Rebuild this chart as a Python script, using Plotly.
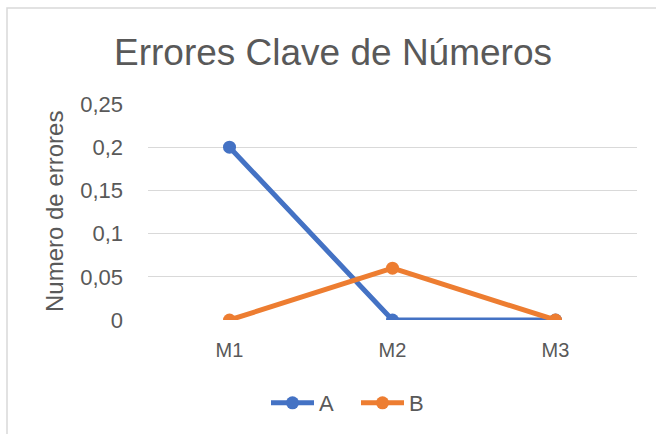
import plotly.graph_objects as go

categories = ["M1", "M2", "M3"]
series_a = [0.2, 0, 0]
series_b = [0, 0.06, 0]
tick_vals = [0, 0.05, 0.1, 0.15, 0.2, 0.25]

W, H = 656, 434
L, R, T, B = 148, 19, 104, 114
pw, ph = W - L - R, H - T - B

fig = go.Figure()
fig.add_trace(go.Scatter(x=categories, y=series_a, name="A", mode="lines+markers",
                         line=dict(color="#4472C4", width=5),
                         marker=dict(size=13, color="#4472C4")))
fig.add_trace(go.Scatter(x=categories, y=series_b, name="B", mode="lines+markers",
                         line=dict(color="#ED7D31", width=5),
                         marker=dict(size=13, color="#ED7D31")))

grey = "#595959"
fig.update_layout(
    width=W, height=H,
    margin=dict(l=L, r=R, t=T, b=B, autoexpand=False),
    paper_bgcolor="white", plot_bgcolor="white",
    separators=",.",
    font=dict(family="Liberation Sans, Arial", color=grey),
    title=dict(text="Errores Clave de Números", x=333 / W, xanchor="center",
               y=1 - 52 / H, yanchor="middle",
               font=dict(size=37, color=grey)),
    xaxis=dict(type="category", range=[-0.5, 2.5], showgrid=False, showline=False,
               zeroline=False, ticks="", tickfont=dict(size=20, color=grey),
               ticklabelstandoff=16, automargin=False),
    yaxis=dict(range=[0, 0.25], tickvals=tick_vals, showgrid=True, gridcolor="#d9d9d9",
               gridwidth=1, zeroline=False, showline=False, ticks="",
               tickfont=dict(size=22, color=grey), ticklabelstandoff=24,
               automargin=False),
    showlegend=True,
    legend=dict(orientation="h", x=(266 - L) / pw, xanchor="left",
                y=(T + ph - 403) / ph, yanchor="middle",
                font=dict(size=22, color=grey), itemwidth=43, entrywidth=32,
                bgcolor="rgba(0,0,0,0)"),
    shapes=[dict(type="rect", xref="paper", yref="paper",
                 x0=(7 - L) / pw, x1=1.2, y0=-1.0, y1=(T + ph - 8) / ph,
                 line=dict(color="#d9d9d9", width=1.5), layer="below")],
    annotations=[dict(text="Numero de errores", xref="paper", yref="paper",
                      x=(54 - L) / pw, y=0.5, textangle=-90, showarrow=False,
                      xanchor="center", yanchor="middle",
                      font=dict(size=24, color=grey))],
)

fig.write_html("out.html", config={"displayModeBar": False},
               post_script="document.body.style.margin='0';")
